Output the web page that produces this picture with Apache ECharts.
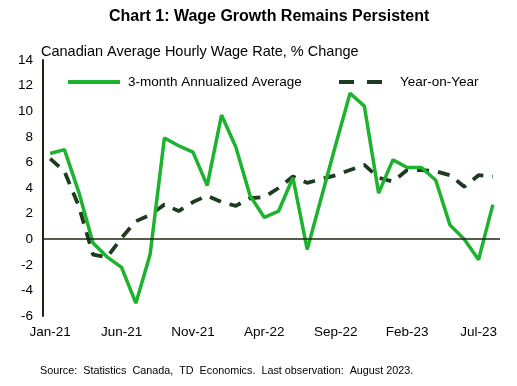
<!DOCTYPE html>
<html><head><meta charset="utf-8">
<script src="https://cdn.jsdelivr.net/npm/echarts@6/dist/echarts.min.js"></script>
<style>html,body{margin:0;padding:0;background:#fff}#c{width:517px;height:386px}</style>
</head><body><div id="c"></div>
<script>
const months = ['Jan-21','Feb-21','Mar-21','Apr-21','May-21','Jun-21','Jul-21','Aug-21','Sep-21','Oct-21','Nov-21','Dec-21',
'Jan-22','Feb-22','Mar-22','Apr-22','May-22','Jun-22','Jul-22','Aug-22','Sep-22','Oct-22','Nov-22','Dec-22',
'Jan-23','Feb-23','Mar-23','Apr-23','May-23','Jun-23','Jul-23','Aug-23'];
const annualized3m = [6.7,7.0,3.7,-0.3,-1.4,-2.2,-5.0,-1.2,7.9,7.3,6.8,4.2,9.7,7.2,3.4,1.7,2.2,4.8,-0.8,3.3,7.4,11.4,10.4,3.6,6.2,5.6,5.6,4.6,1.1,0.0,-1.6,2.7];
const yoy = [6.3,5.3,2.6,-1.2,-1.4,0.1,1.4,1.9,2.7,2.2,2.9,3.4,2.9,2.6,3.2,3.3,4.0,4.9,4.4,4.7,5.0,5.4,5.8,4.8,4.5,5.4,5.4,5.3,5.0,4.1,5.0,4.9];
const yTicks = {min:-6, max:14, interval:2};
const chart = echarts.init(document.getElementById('c'));
const font = 'Liberation Sans, Arial, sans-serif';
const green = '#1db32e', dark = '#1c3b20';
chart.setOption({
  animation:false,
  title:[
    {text:'Chart 1: Wage Growth Remains Persistent', left:104, top:4, textStyle:{fontFamily:font, fontSize:16, fontWeight:'bold', color:'#000'}},
    {text:'Canadian Average Hourly Wage Rate, % Change', left:36, top:39, textStyle:{fontFamily:font, fontSize:14.5, fontWeight:'normal', color:'#000'}},
    {text:'Source:  Statistics  Canada,  TD  Economics.  Last observation:  August 2023.', left:35, top:361, textStyle:{fontFamily:font, fontSize:10.8, fontWeight:'normal', color:'#000'}}
  ],
  legend:[
    {top:70, left:63, itemWidth:52, itemHeight:4, textStyle:{fontFamily:font, fontSize:13.5, color:'#000', padding:[0,0,0,3]},
      data:[{name:'3-month Annualized Average', icon:'rect'}]},
    {top:70, left:332, itemWidth:43, itemHeight:4, textStyle:{fontFamily:font, fontSize:13.5, color:'#000', padding:[0,0,0,13]},
      data:[{name:'Year-on-Year', itemStyle:{opacity:0}, lineStyle:{type:[15,13], width:4, color:dark}}]}
  ],
  grid:{left:43, right:17, top:60, bottom:70},
  xAxis:{type:'category', data:months, boundaryGap:true,
    axisLine:{show:false}, axisTick:{show:false},
    axisLabel:{interval:4, fontFamily:font, fontSize:13.5, color:'#000', margin:9}},
  yAxis:{type:'value', min:yTicks.min, max:yTicks.max, interval:yTicks.interval,
    splitLine:{show:false}, axisTick:{show:false},
    axisLine:{show:true, lineStyle:{color:'#1b2612', width:2}},
    axisLabel:{fontFamily:font, fontSize:13.5, color:'#000', margin:10}},
  series:[
    {name:'3-month Annualized Average', type:'line', data:annualized3m, symbol:'none', z:3,
      lineStyle:{color:green, width:3.5}, itemStyle:{color:green},
      markLine:{silent:true, symbol:'none', label:{show:false}, lineStyle:{color:'#1b2612', width:1.5, type:'solid'}, data:[{yAxis:0}]}},
    {name:'Year-on-Year', type:'line', data:yoy, symbol:'none', z:2,
      lineStyle:{color:dark, width:3.8, type:[12,9]}, itemStyle:{color:dark}}
  ]
});
</script></body></html>
